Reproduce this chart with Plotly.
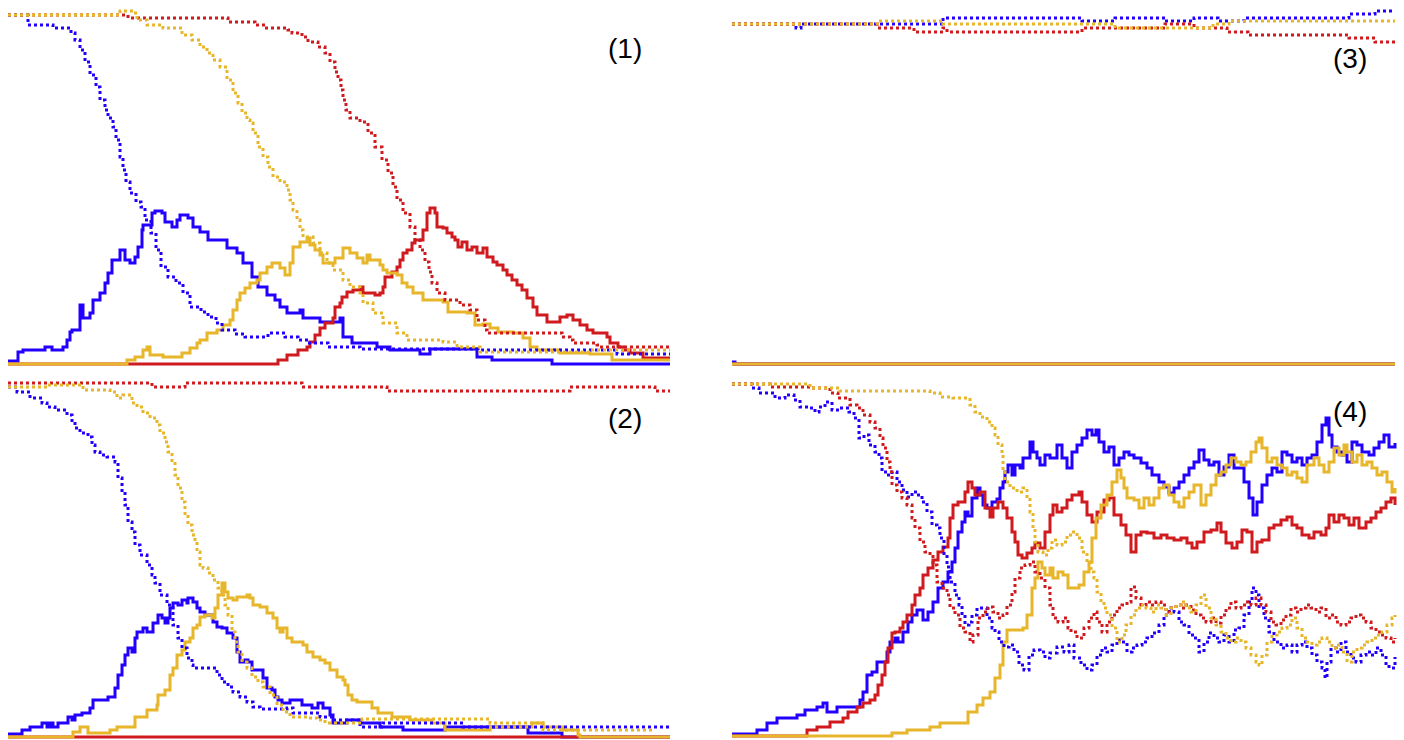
import plotly.graph_objects as go

# ---------------- data: (time step, count) pairs ----------------
# Panel (1)
p1_blue_solid = [(0,3),(10,12),(15,14),(37,17),(44,14),(55,17),(59,24),(62,32),(64,34),(72,59),(75,46),(82,51),(85,64),(92,71),(97,81),(100,91),(104,104),(112,114),(117,104),(122,101),(127,107),(130,117),(134,134),(135,139),(144,151),(147,153),(154,151),(157,142),(164,137),(169,144),(172,149),(180,146),(185,137),(192,132),(200,124),(214,124),(219,116),(229,111),(235,101),(244,87),(250,77),(259,69),(267,64),(272,57),(279,51),(292,54),(295,46),(312,42),(332,46),(335,27),(344,21),(369,17),(382,14),(412,10),(422,15),(469,7),(484,4),(544,0),(662,0)]
p1_blue_dot = [(0,349),(20,339),(45,336),(63,331),(67,324),(72,314),(77,302),(82,289),(88,277),(92,264),(97,254),(100,246),(105,237),(108,224),(112,207),(115,194),(118,182),(122,171),(128,162),(133,157),(137,144),(143,131),(148,114),(153,97),(160,87),(168,81),(175,71),(182,57),(193,52),(200,47),(208,41),(214,34),(227,30),(237,27),(260,31),(277,27),(290,24),(300,21),(320,17),(352,15),(470,14),(609,10),(662,10)]
p1_yellow_dot = [(0,349),(112,353),(125,351),(129,344),(139,339),(155,336),(174,329),(184,324),(192,317),(199,311),(205,304),(212,297),(219,284),(225,271),(230,261),(234,251),(239,244),(242,241),(245,231),(250,217),(255,207),(260,197),(265,187),(272,182),(279,174),(282,164),(285,154),(289,144),(292,134),(295,127),(305,121),(312,111),(319,101),(325,94),(335,84),(342,77),(352,71),(355,61),(365,51),(375,41),(389,31),(399,24),(435,22),(449,17),(472,12),(582,14),(662,14)]
p1_red_dot = [(0,349),(120,346),(220,342),(247,339),(257,336),(280,334),(284,331),(294,327),(300,322),(310,317),(317,311),(322,302),(327,292),(330,284),(333,274),(335,264),(338,254),(342,246),(352,242),(360,231),(367,217),(374,204),(380,191),(385,177),(389,164),(395,151),(402,137),(407,124),(412,114),(417,102),(421,92),(424,81),(429,71),(437,64),(452,59),(462,54),(469,44),(477,34),(479,31),(549,31),(554,27),(562,24),(565,21),(589,19),(592,17),(662,17)]
p1_yellow_solid = [(0,0),(119,4),(127,7),(135,14),(139,17),(142,9),(155,7),(174,11),(182,16),(189,21),(192,24),(199,31),(209,34),(215,39),(222,44),(225,54),(229,64),(232,71),(237,76),(242,81),(249,84),(252,91),(259,97),(264,101),(272,96),(277,89),(282,101),(285,117),(292,122),(299,126),(302,119),(307,114),(312,109),(315,101),(322,101),(327,106),(335,116),(342,111),(349,106),(355,101),(359,109),(362,104),(369,104),(372,99),(375,94),(379,91),(389,89),(394,81),(399,77),(405,71),(415,64),(435,62),(440,52),(459,51),(467,39),(475,40),(482,36),(490,32),(505,31),(515,26),(522,17),(529,14),(552,11),(582,10),(604,4),(662,4)]
p1_red_solid = [(0,0),(270,4),(279,9),(290,14),(299,17),(302,22),(307,29),(312,36),(317,41),(325,46),(327,57),(332,61),(334,67),(339,72),(345,74),(352,77),(355,71),(367,69),(372,71),(375,77),(377,87),(384,92),(389,97),(392,104),(395,111),(399,114),(404,121),(407,124),(412,124),(415,134),(419,151),(422,156),(427,151),(429,137),(435,136),(439,131),(444,127),(447,124),(450,117),(454,122),(459,114),(464,117),(469,111),(475,116),(479,107),(485,102),(489,99),(495,94),(499,89),(504,84),(509,79),(514,74),(519,66),(525,57),(529,49),(539,42),(552,47),(559,49),(565,44),(572,39),(579,34),(585,31),(599,27),(602,21),(610,17),(615,14),(622,11),(635,6),(662,6)]

# Panel (2)
p2_red_dot = [(0,354),(144,350),(177,354),(294,350),(379,346),(562,350),(647,346),(662,346)]
p2_yellow_dot = [(0,350),(40,352),(75,347),(102,345),(109,339),(115,342),(124,334),(129,330),(135,324),(142,319),(149,312),(152,304),(157,295),(160,285),(164,275),(167,262),(170,249),(174,235),(177,222),(180,212),(184,202),(187,195),(189,185),(192,172),(195,169),(200,164),(205,157),(210,149),(214,142),(217,132),(220,122),(224,105),(227,95),(230,85),(234,75),(239,69),(244,60),(250,55),(255,50),(262,42),(269,32),(275,25),(282,20),(299,19),(309,17),(317,14),(354,18),(482,14),(535,7),(645,7)]
p2_blue_dot = [(0,350),(9,345),(22,339),(34,334),(39,330),(47,327),(59,322),(64,315),(67,309),(72,304),(80,300),(84,292),(87,285),(92,282),(99,280),(107,275),(110,259),(114,245),(117,232),(120,215),(124,205),(127,192),(132,182),(139,172),(144,162),(147,154),(152,142),(159,132),(165,112),(170,99),(174,89),(179,79),(184,72),(185,69),(205,69),(209,62),(214,55),(220,50),(225,45),(232,40),(239,35),(245,30),(252,28),(279,29),(285,24),(312,20),(325,17),(352,10),(375,14),(455,10),(662,10)]
p2_blue_solid = [(0,3),(14,7),(22,10),(34,14),(39,10),(42,14),(45,10),(50,14),(60,20),(64,17),(67,22),(74,24),(82,29),(85,37),(100,40),(107,49),(110,62),(114,72),(117,82),(120,89),(124,85),(127,99),(129,105),(135,109),(139,105),(145,114),(150,122),(154,119),(157,114),(160,119),(162,129),(165,134),(170,132),(174,137),(179,134),(180,139),(185,135),(189,129),(192,125),(197,122),(205,115),(209,110),(214,109),(219,104),(225,99),(229,85),(232,75),(237,77),(240,75),(244,67),(255,59),(259,49),(264,47),(267,40),(270,37),(274,34),(282,37),(294,32),(304,29),(310,34),(315,29),(322,22),(325,14),(339,17),(352,14),(372,10),(395,7),(437,10),(520,4),(554,0),(662,0)]
p2_yellow_solid = [(0,0),(65,5),(72,10),(80,4),(102,7),(109,10),(127,20),(139,27),(149,32),(150,42),(157,47),(162,62),(165,69),(169,82),(174,87),(177,95),(182,99),(185,109),(189,112),(192,120),(197,122),(204,119),(207,129),(210,142),(214,154),(217,145),(220,139),(225,137),(229,140),(239,142),(242,139),(245,132),(252,130),(259,124),(265,119),(269,109),(272,105),(275,109),(279,99),(284,95),(295,92),(299,85),(305,80),(312,77),(317,74),(322,67),(329,60),(335,57),(337,52),(340,42),(344,37),(349,35),(364,29),(370,24),(384,20),(402,17),(424,14),(437,7),(482,10),(524,14),(535,10),(555,7),(570,2),(572,0),(662,0)]
p2_red_solid = [(0,0),(662,0)]

# Panel (3)
p3_blue_dot = [(0,340),(64,336),(69,340),(211,346),(350,343),(383,346),(433,343),(462,346),(486,343),(512,346),(617,350),(643,353),(663,353)]
p3_yellow_dot = [(0,340),(145,343),(211,340),(383,336),(481,340),(497,343),(663,343)]
p3_red_dot = [(0,340),(145,336),(182,332),(211,336),(215,332),(350,336),(433,340),(462,336),(495,332),(516,329),(617,326),(643,322),(663,322)]
p3_blue_solid = [(0,2),(3,0),(663,0)]
p3_yellow_solid = [(0,0),(663,0)]
p3_red_solid = [(0,0),(663,0)]

# Panel (4)
p4_blue_solid = [(0,2),(25,6),(35,13),(45,18),(65,21),(73,26),(85,29),(91,33),(95,24),(105,29),(123,29),(128,36),(131,44),(135,61),(140,64),(145,74),(155,84),(158,94),(163,98),(166,94),(171,104),(176,114),(180,121),(185,126),(191,116),(196,124),(201,134),(206,148),(211,154),(216,164),(220,174),(223,188),(226,204),(230,214),(233,224),(236,220),(240,238),(245,248),(248,241),(251,231),(255,228),(260,234),(265,237),(268,248),(271,254),(273,264),(276,271),(280,261),(283,271),(288,268),(291,278),(298,294),(301,284),(305,278),(308,271),(313,281),(318,278),(325,291),(330,278),(335,268),(340,284),(345,291),(350,298),(355,306),(360,301),(364,306),(367,294),(372,284),(377,289),(382,271),(387,278),(392,284),(397,281),(402,278),(409,273),(415,268),(420,261),(427,254),(432,249),(437,243),(442,248),(447,254),(452,261),(457,268),(462,274),(467,286),(472,276),(477,271),(482,274),(487,261),(492,269),(497,281),(502,268),(507,268),(512,254),(517,238),(521,221),(525,234),(530,251),(535,261),(540,268),(545,264),(550,284),(555,281),(560,274),(565,278),(570,271),(575,278),(580,281),(585,294),(590,311),(594,318),(597,301),(600,289),(605,284),(610,281),(615,274),(620,294),(625,291),(630,284),(637,281),(642,288),(647,294),(652,301),(657,289),(663,293)]
p4_red_solid = [(0,0),(75,6),(85,9),(98,14),(111,18),(116,24),(125,29),(131,33),(138,36),(143,41),(146,51),(150,61),(153,74),(156,88),(160,103),(163,104),(168,108),(171,114),(175,121),(180,131),(183,141),(188,148),(191,161),(196,168),(201,176),(206,184),(211,189),(216,198),(218,218),(221,231),(226,234),(233,244),(236,254),(240,248),(243,241),(248,244),(253,228),(258,219),(261,228),(266,234),(271,228),(275,218),(280,204),(283,194),(286,181),(290,178),(295,183),(300,188),(303,193),(308,188),(313,204),(318,221),(321,231),(325,224),(330,228),(335,236),(340,241),(347,244),(350,234),(355,221),(360,214),(365,224),(372,236),(377,238),(382,221),(389,211),(394,201),(399,184),(404,201),(409,204),(415,203),(422,198),(429,201),(435,198),(442,196),(449,198),(455,193),(460,188),(465,194),(472,204),(479,206),(485,213),(489,204),(494,193),(500,188),(505,194),(510,206),(515,204),(520,184),(525,194),(530,196),(537,208),(542,211),(549,216),(555,219),(560,211),(565,208),(570,201),(577,198),(582,204),(589,201),(594,208),(597,221),(602,214),(607,221),(612,218),(617,211),(622,218),(627,208),(634,214),(639,218),(644,224),(649,228),(654,234),(659,238),(663,231)]
p4_yellow_solid = [(0,0),(160,3),(175,6),(198,9),(208,13),(236,24),(245,31),(251,38),(258,44),(263,58),(268,71),(271,94),(275,106),(291,108),(295,121),(300,148),(303,158),(306,174),(310,168),(313,161),(318,168),(321,158),(326,164),(331,161),(336,148),(342,148),(347,151),(352,164),(357,174),(360,198),(364,218),(369,231),(375,241),(380,254),(385,266),(389,258),(392,248),(395,238),(402,236),(407,228),(412,238),(417,231),(422,238),(427,248),(432,251),(437,241),(442,234),(447,229),(452,238),(457,244),(462,251),(469,231),(474,241),(479,251),(484,261),(489,264),(494,271),(499,278),(504,274),(509,271),(514,274),(519,284),(524,294),(527,298),(530,288),(535,274),(540,278),(545,271),(550,268),(555,261),(560,264),(565,258),(570,254),(575,271),(582,278),(587,271),(592,264),(597,274),(602,288),(607,281),(612,291),(615,284),(620,274),(625,281),(630,271),(635,274),(640,268),(645,261),(650,264),(655,254),(660,244),(663,248)]
p4_blue_dot = [(0,352),(20,348),(27,343),(43,338),(53,341),(62,336),(68,329),(77,328),(83,324),(87,329),(93,334),(100,326),(108,328),(117,324),(122,318),(127,298),(132,301),(137,291),(143,284),(147,278),(150,264),(155,261),(160,264),(165,254),(170,246),(175,239),(180,244),(185,241),(190,234),(195,224),(200,211),(205,208),(208,198),(212,181),(215,169),(218,154),(223,141),(227,131),(230,121),(233,111),(237,114),(240,121),(245,128),(250,128),(255,118),(260,108),(263,104),(267,94),(272,89),(277,91),(282,84),(287,71),(292,66),(297,81),(302,86),(308,84),(313,78),(318,83),(325,89),(332,84),(337,91),(342,78),(349,71),(355,66),(360,71),(365,81),(370,88),(375,84),(380,91),(385,96),(389,94),(395,84),(400,88),(405,91),(410,94),(415,98),(420,103),(427,111),(432,121),(437,128),(442,124),(447,114),(452,111),(457,101),(462,98),(467,84),(472,94),(477,103),(482,98),(487,94),(492,101),(497,94),(502,106),(507,108),(512,121),(517,134),(520,148),(524,141),(527,128),(532,118),(537,104),(542,94),(549,88),(555,91),(560,84),(565,91),(570,94),(575,88),(580,81),(585,74),(590,68),(593,58),(595,74),(599,88),(604,84),(609,94),(614,84),(619,78),(624,74),(629,81),(634,84),(639,81),(644,88),(649,81),(654,71),(657,68),(663,79)]
p4_red_dot = [(0,352),(38,349),(78,348),(98,343),(106,338),(118,331),(125,328),(131,321),(138,314),(143,308),(148,298),(151,288),(155,274),(158,264),(160,251),(165,244),(170,238),(175,231),(180,218),(183,208),(188,194),(193,184),(198,181),(201,171),(205,154),(210,148),(215,141),(218,128),(223,121),(228,108),(233,104),(238,94),(241,101),(246,118),(251,124),(256,129),(261,124),(266,118),(271,121),(275,131),(280,144),(283,158),(288,168),(293,171),(298,174),(303,164),(308,158),(313,148),(318,131),(321,118),(326,114),(331,118),(336,108),(339,104),(345,98),(352,108),(357,118),(362,124),(365,114),(370,104),(375,114),(380,121),(385,128),(390,131),(395,134),(399,149),(404,138),(409,131),(414,134),(419,131),(424,134),(429,131),(434,124),(439,128),(444,131),(449,128),(454,131),(459,126),(464,121),(469,118),(474,114),(479,118),(484,113),(489,121),(494,128),(499,134),(504,128),(509,131),(514,134),(519,131),(524,138),(529,131),(534,124),(539,114),(544,111),(549,116),(554,121),(559,128),(564,124),(569,128),(574,131),(579,128),(584,124),(589,128),(594,118),(599,121),(604,114),(609,111),(614,114),(619,118),(624,121),(629,118),(634,114),(639,108),(644,104),(649,101),(654,98),(659,94),(663,98)]
p4_yellow_dot = [(0,352),(78,348),(108,345),(198,343),(208,339),(221,338),(238,331),(243,324),(248,319),(255,314),(260,308),(263,301),(266,291),(270,281),(271,264),(273,254),(278,248),(285,244),(291,248),(295,238),(298,224),(301,208),(303,194),(306,184),(311,181),(316,188),(320,196),(325,191),(330,194),(335,201),(340,204),(345,198),(350,184),(355,174),(359,164),(362,158),(365,144),(369,134),(372,128),(375,121),(380,108),(385,94),(390,101),(394,111),(399,121),(404,128),(409,131),(414,128),(419,124),(424,131),(429,128),(434,121),(439,128),(444,131),(449,134),(454,128),(459,124),(464,131),(469,141),(474,128),(479,118),(484,111),(489,104),(494,98),(499,94),(504,98),(509,94),(514,88),(519,81),(524,74),(527,71),(530,81),(535,94),(540,101),(545,104),(550,108),(555,111),(560,118),(565,108),(570,98),(575,94),(580,91),(585,94),(590,98),(595,94),(600,88),(605,91),(610,84),(615,74),(620,84),(625,88),(630,91),(635,94),(640,98),(645,101),(650,104),(655,111),(660,118),(663,121)]

panel_labels = ["(1)", "(2)", "(3)", "(4)"]

# ---------------- styling / layout ----------------
W, H = 1404, 740
BLUE, GOLD, RED = "#2200FF", "#E8B62A", "#D01A1E"

# pixel calibration per panel: (x px at t=0, x px at t_end, t_end, y px at 0, y px at 350)
calib = {
    1: (8, 670, 662, 364, 14),
    2: (8, 670, 662, 737, 387),
    3: (732, 1395, 663, 364, 14),
    4: (732, 1395, 663, 736, 386),
}
Y_LO, Y_HI = -3, 358


def clamp(v):
    return max(0.0, min(1.0, v))


fig = go.Figure()

panels = {
    1: [(p1_blue_solid, BLUE, "solid"), (p1_red_solid, RED, "solid"), (p1_yellow_solid, GOLD, "solid"),
        (p1_blue_dot, BLUE, "dot"), (p1_red_dot, RED, "dot"), (p1_yellow_dot, GOLD, "dot")],
    2: [(p2_blue_solid, BLUE, "solid"), (p2_red_solid, RED, "solid"), (p2_yellow_solid, GOLD, "solid"),
        (p2_blue_dot, BLUE, "dot"), (p2_red_dot, RED, "dot"), (p2_yellow_dot, GOLD, "dot")],
    3: [(p3_blue_solid, BLUE, "solid"), (p3_red_solid, RED, "solid"), (p3_yellow_solid, GOLD, "solid"),
        (p3_blue_dot, BLUE, "dot"), (p3_red_dot, RED, "dot"), (p3_yellow_dot, GOLD, "dot")],
    4: [(p4_blue_solid, BLUE, "solid"), (p4_red_solid, RED, "solid"), (p4_yellow_solid, GOLD, "solid"),
        (p4_blue_dot, BLUE, "dot"), (p4_red_dot, RED, "dot"), (p4_yellow_dot, GOLD, "dot")],
}

layout_axes = {}
annotations = []
for k, series_list in panels.items():
    suffix = "" if k == 1 else str(k)
    xa, ya = "x" + suffix, "y" + suffix
    x0, x1, t_end, y0, y350 = calib[k]
    sx = (x1 - x0) / t_end
    sy = (y0 - y350) / 350.0
    x_lo, x_hi = -6, t_end + 6
    xdom = [clamp((x0 + x_lo * sx) / W), clamp((x0 + x_hi * sx) / W)]
    ydom = [clamp(1 - (y0 - Y_LO * sy) / H), clamp(1 - (y0 - Y_HI * sy) / H)]
    layout_axes["xaxis" + suffix] = dict(domain=xdom, range=[x_lo, x_hi], visible=False,
                                         anchor=ya, fixedrange=True)
    layout_axes["yaxis" + suffix] = dict(domain=ydom, range=[Y_LO, Y_HI], visible=False,
                                         anchor=xa, fixedrange=True)
    for data, color, dash in series_list:
        fig.add_trace(go.Scatter(
            x=[p[0] for p in data], y=[p[1] for p in data], mode="lines",
            line=dict(color=color, width=3, dash=dash, shape="hv"),
            xaxis=xa, yaxis=ya, showlegend=False, hoverinfo="skip"))
    label_y = {1: 316, 2: 319, 3: 306, 4: 325}[k]
    annotations.append(dict(text=panel_labels[k - 1], x=t_end - 45, y=label_y,
                            xref=xa, yref=ya, showarrow=False,
                            xanchor="center", yanchor="middle",
                            font=dict(family="Liberation Sans, Arial, sans-serif", size=28, color="#000000")))

fig.update_layout(
    width=W, height=H, margin=dict(l=0, r=0, t=0, b=0),
    paper_bgcolor="white", plot_bgcolor="white",
    showlegend=False, annotations=annotations, **layout_axes)

fig.write_html("out.html", config={"displayModeBar": False},
               post_script="document.body.style.margin='0';document.body.style.overflow='hidden';")
